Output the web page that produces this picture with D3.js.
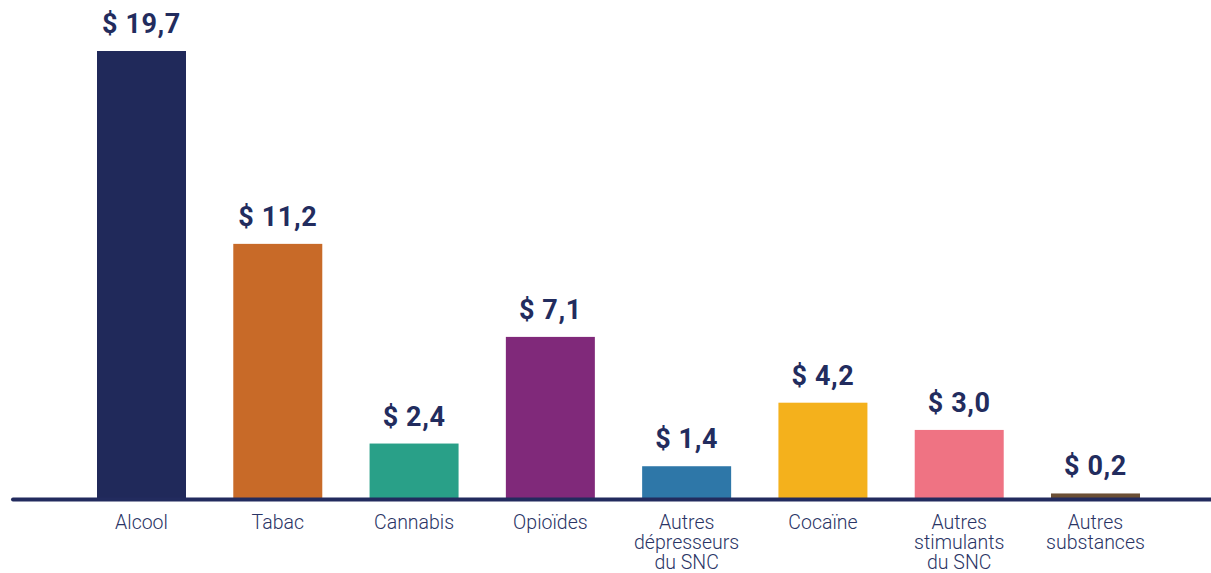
<!DOCTYPE html>
<html lang="fr">
<head>
  <meta charset="UTF-8" />
  <title>Coûts par substance</title>
  <script src="https://d3js.org/d3.v7.min.js"></script>
  <style>
    body { margin: 0; background: #fff; }
    svg { display: block; }
    .value { font-family: Roboto, "Noto Sans", sans-serif; font-weight: 700; font-size: 27px; letter-spacing: 0.6px; fill: #222c5e; }
    .cat { font-family: Roboto, "Noto Sans", sans-serif; font-weight: 300; font-size: 19.5px; fill: #2a3465; }
  </style>
</head>
<body>
<svg id="chart" width="1211" height="573"></svg>
<script>
const categories = [
  ["Alcool"],
  ["Tabac"],
  ["Cannabis"],
  ["Opioïdes"],
  ["Autres", "dépresseurs", "du SNC"],
  ["Cocaïne"],
  ["Autres", "stimulants", "du SNC"],
  ["Autres", "substances"]
];
const values = [19.7, 11.2, 2.4, 7.1, 1.4, 4.2, 3.0, 0.2];
const colors = ["#20295a", "#c86a28", "#29a088", "#80297a", "#2e77a8", "#f4b11c", "#ef7383", "#6b4f35"];

const data = categories.map((c, i) => ({ lines: c, key: c.join(" "), value: values[i], color: colors[i] }));

const svg = d3.select("#chart");
const base = 498;

const x = d3.scaleBand()
  .domain(data.map(d => d.key))
  .range([97, 1140])
  .paddingInner(0.347)
  .paddingOuter(0);

const y = d3.scaleLinear().domain([0, 19.7]).range([base, 51]);

svg.selectAll(".bar")
  .data(data)
  .enter()
  .append("rect")
  .attr("x", d => x(d.key))
  .attr("y", d => y(d.value))
  .attr("width", x.bandwidth())
  .attr("height", d => y(0) - y(d.value))
  .attr("fill", d => d.color);

svg.append("line")
  .attr("x1", 13)
  .attr("x2", 1211)
  .attr("y1", base + 1.5)
  .attr("y2", base + 1.5)
  .attr("stroke", "#222b5e")
  .attr("stroke-width", 4)
  .attr("stroke-linecap", "round");

const fmt = v => "$ " + v.toFixed(1).replace(".", ",");

svg.selectAll(".value")
  .data(data)
  .enter()
  .append("text")
  .attr("class", "value")
  .attr("x", d => x(d.key) + x.bandwidth() / 2)
  .attr("y", d => y(d.value) - 18)
  .attr("text-anchor", "middle")
  .text(d => fmt(d.value));

const cat = svg.selectAll(".cat")
  .data(data)
  .enter()
  .append("text")
  .attr("class", "cat")
  .attr("text-anchor", "middle")
  .attr("transform", d => `translate(${x(d.key) + x.bandwidth() / 2},529)`);

cat.selectAll("tspan")
  .data(d => d.lines)
  .enter()
  .append("tspan")
  .attr("x", 0)
  .attr("y", (l, i) => i * 20)
  .text(l => l);
</script>
</body>
</html>
